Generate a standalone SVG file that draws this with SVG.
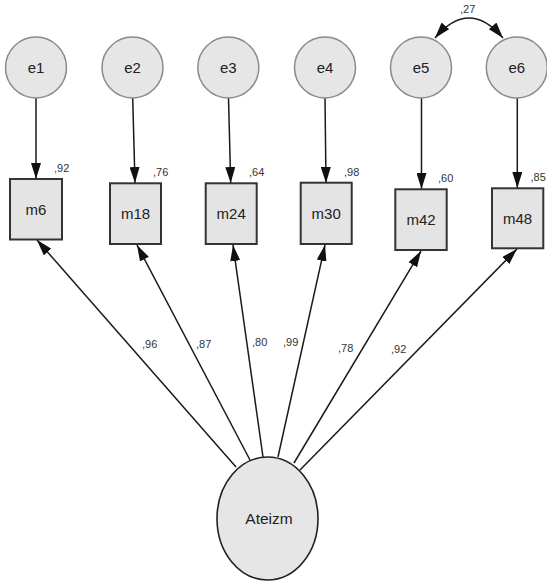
<svg xmlns="http://www.w3.org/2000/svg" width="547" height="585" viewBox="0 0 547 585">
  <style>
    .err { fill: #e6e6e6; stroke: #8a8a8a; stroke-width: 1.5; }
    .obs { fill: #e4e4e4; stroke: #333333; stroke-width: 2; }
    .lat { fill: #e6e6e6; stroke: #222222; stroke-width: 1.6; }
    .lbl { font-family: "Liberation Sans", Arial, sans-serif; font-size: 15px; fill: #222222; text-anchor: middle; }
    .big { font-family: "Liberation Sans", Arial, sans-serif; font-size: 15.5px; fill: #222222; text-anchor: middle; }
    .coef { font-family: "Liberation Sans", Arial, sans-serif; font-size: 11px; fill: #333333; }
    .edge { fill: none; stroke: #1a1a1a; stroke-width: 1.5; marker-end: url(#arrow); }
    .cov { fill: none; stroke: #1a1a1a; stroke-width: 1.5; marker-start: url(#arrow); marker-end: url(#arrow); }
  </style>
  <defs>
    <marker id="arrow" viewBox="0 0 16 10" refX="16" refY="5" markerWidth="16" markerHeight="10" markerUnits="userSpaceOnUse" orient="auto-start-reverse">
      <path d="M0,0 L16,5 L0,10 z" fill="#111111"/>
    </marker>
  </defs>
  <rect width="547" height="585" fill="#ffffff"/>

  <g id="connectors">
    <line class="edge" x1="36" y1="98" x2="36" y2="179"/>
    <line class="edge" x1="132.7" y1="98" x2="135" y2="183"/>
    <line class="edge" x1="228.5" y1="98" x2="230.7" y2="183"/>
    <line class="edge" x1="325" y1="98" x2="326" y2="183"/>
    <line class="edge" x1="421.5" y1="98" x2="421.5" y2="189"/>
    <line class="edge" x1="517.3" y1="98" x2="517.3" y2="188"/>

    <line class="edge" x1="236" y1="467" x2="37" y2="240"/>
    <line class="edge" x1="250" y1="460" x2="137" y2="245"/>
    <line class="edge" x1="263" y1="457" x2="233" y2="245"/>
    <line class="edge" x1="278" y1="457" x2="325" y2="245"/>
    <line class="edge" x1="294" y1="463" x2="421" y2="251"/>
    <line class="edge" x1="300" y1="470" x2="517" y2="249"/>

    <path class="cov" d="M 435 38 Q 469 -2 503 38"/>
  </g>

  <g id="e1"><circle class="err" cx="36" cy="67.5" r="30.5"/><text class="lbl" x="36" y="73">e1</text></g>
  <g id="e2"><circle class="err" cx="132.5" cy="67.5" r="30.5"/><text class="lbl" x="132.5" y="73">e2</text></g>
  <g id="e3"><circle class="err" cx="228.3" cy="67.5" r="30.5"/><text class="lbl" x="228.3" y="73">e3</text></g>
  <g id="e4"><circle class="err" cx="325" cy="67.5" r="30.5"/><text class="lbl" x="325" y="73">e4</text></g>
  <g id="e5"><circle class="err" cx="421" cy="67.5" r="30.5"/><text class="lbl" x="421" y="73">e5</text></g>
  <g id="e6"><circle class="err" cx="516.8" cy="67.5" r="30.5"/><text class="lbl" x="516.8" y="73">e6</text></g>

  <g id="m6"><rect class="obs" x="10" y="179" width="52" height="60.5"/><text class="lbl" x="36" y="214.5">m6</text><text class="coef" x="54" y="172">,92</text></g>
  <g id="m18"><rect class="obs" x="110" y="183.3" width="51" height="60.7"/><text class="lbl" x="135.5" y="219">m18</text><text class="coef" x="153" y="176">,76</text></g>
  <g id="m24"><rect class="obs" x="205.7" y="183.3" width="51" height="60.7"/><text class="lbl" x="231.2" y="219">m24</text><text class="coef" x="249" y="176">,64</text></g>
  <g id="m30"><rect class="obs" x="300.7" y="182.7" width="51" height="61.3"/><text class="lbl" x="326.2" y="218.5">m30</text><text class="coef" x="344" y="176">,98</text></g>
  <g id="m42"><rect class="obs" x="395.3" y="189.3" width="51.4" height="60.7"/><text class="lbl" x="421" y="225">m42</text><text class="coef" x="438" y="182">,60</text></g>
  <g id="m48"><rect class="obs" x="492" y="188.3" width="51.3" height="60"/><text class="lbl" x="517.6" y="223.5">m48</text><text class="coef" x="530.5" y="181">,85</text></g>

  <g id="Ateizm"><ellipse class="lat" cx="267.5" cy="518.5" rx="50.5" ry="61.5"/><text class="big" x="269" y="524">Ateizm</text></g>

  <g id="coefficients">
    <text class="coef" x="460" y="13">,27</text>
    <text class="coef" x="142" y="348">,96</text>
    <text class="coef" x="196" y="348">,87</text>
    <text class="coef" x="252" y="346">,80</text>
    <text class="coef" x="283" y="346">,99</text>
    <text class="coef" x="338" y="352">,78</text>
    <text class="coef" x="391" y="353">,92</text>
  </g>
</svg>
